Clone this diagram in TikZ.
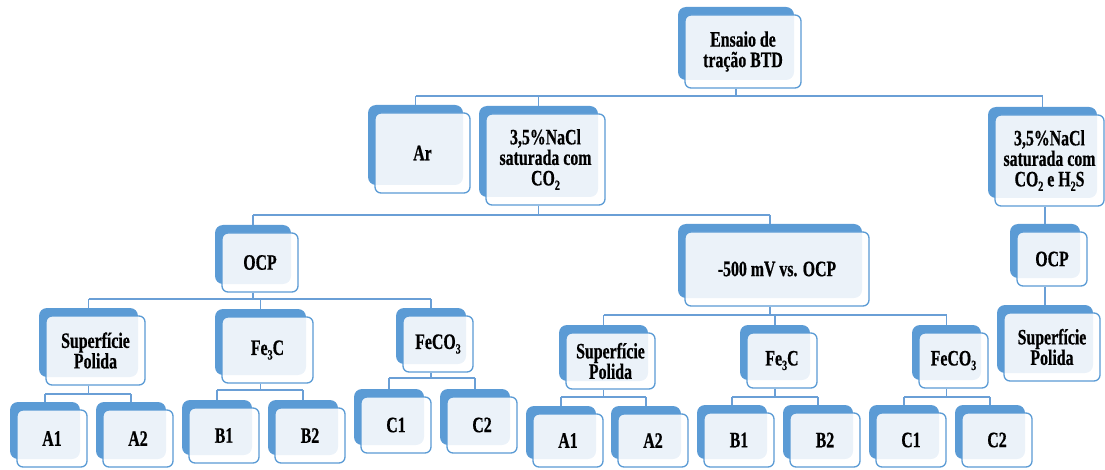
\documentclass[tikz,border=0pt]{standalone}
\usepackage{fontspec}
\setmainfont{Liberation Serif}[FakeStretch=0.72, BoldFeatures={FakeBold=0.6}]
\definecolor{boxblue}{HTML}{5B9BD5}
\definecolor{linkblue}{HTML}{6A9FD6}
\newcommand\sub[1]{\raisebox{-0.45ex}{\fontsize{14}{14}\selectfont #1}}
\tikzset{
  backbox/.style={draw=none, fill=boxblue, rounded corners=8pt, inner sep=0pt},
  frontbox/.style={draw=boxblue, line width=1.3pt, fill=white, fill opacity=0.88, text opacity=1,
    rounded corners=6pt, inner sep=0pt, align=center,
    font=\fontsize{22}{20.5}\selectfont\bfseries},
  conn/.style={draw=linkblue, line width=1.4pt}
}
\newcommand\bx[6]{%
  \node[backbox, minimum width=#4, minimum height=#5] (#1-b) at (#2-7,#3-8) {};
  \node[frontbox, minimum width=#4, minimum height=#5] (#1) at (#2,#3) {#6};
}
\begin{document}
\begin{tikzpicture}[x=1pt,y=-1pt]
\useasboundingbox (0,0) rectangle (1105,470);
% level 1-2
\bx{top}{743}{51.5}{116}{73}{Ensaio de\\tração BTD}
\bx{ar}{422.5}{153}{95}{80}{Ar}
\bx{nacl}{545.5}{159.5}{119}{91}{3,5\%NaCl\\saturada com\\CO\sub{2}}
\bx{hs}{1049.5}{160.5}{109}{91}{3,5\%NaCl\\saturada com\\CO\sub{2} e H\sub{2}S}
% level 3
\bx{ocpL}{260}{262.5}{76}{59}{OCP}
\bx{mv}{777}{269}{184}{74}{-500 mV vs. OCP}
\bx{ocpR}{1052}{259}{70}{54}{OCP}
% level 4
\bx{supL}{95.5}{350.5}{99}{69}{Superfície\\Polida}
\bx{feL}{267.5}{350}{91}{66}{Fe\sub{3}C}
\bx{fcL}{438}{344}{70}{56}{FeCO\sub{3}}
\bx{supM}{610.5}{361}{89}{56}{Superfície\\Polida}
\bx{feM}{782}{360.5}{70}{55}{Fe\sub{3}C}
\bx{fcM}{953.5}{360.5}{69}{55}{FeCO\sub{3}}
\bx{supR}{1052}{347}{96}{68}{Superfície\\Polida}
% level 5
\bx{aaL}{52}{438.5}{70}{57}{A1}
\bx{abL}{138}{438.5}{70}{57}{A2}
\bx{baL}{224}{435.5}{70}{55}{B1}
\bx{bbL}{310}{435.5}{70}{55}{B2}
\bx{caL}{396}{425}{70}{56}{C1}
\bx{cbL}{482}{425}{70}{56}{C2}
\bx{aaM}{568}{440.5}{70}{53}{A1}
\bx{abM}{653}{440.5}{70}{53}{A2}
\bx{baM}{739}{440}{70}{54}{B1}
\bx{bbM}{825}{440}{70}{54}{B2}
\bx{caM}{911}{440}{70}{54}{C1}
\bx{cbM}{997}{440}{70}{54}{C2}
% bus coordinates
\coordinate (yA) at (0,96);
\coordinate (yB) at (0,215);
\coordinate (yC) at (0,299);
\coordinate (yD) at (0,315);
\coordinate (yE) at (0,394);
\coordinate (yF) at (0,390);
\coordinate (yG) at (0,378);
\coordinate (yH) at (0,397);
% connectors
\draw[conn] (top-b |- top.south) -- (top-b |- yA);
\draw[conn] (ar-b |- yA) -- (hs-b |- yA);
\foreach \c in {ar,nacl,hs} \draw[conn] (\c-b |- yA) -- (\c-b.north);

\draw[conn] (nacl-b |- nacl.south) -- (nacl-b |- yB);
\draw[conn] (ocpL-b |- yB) -- (mv-b |- yB);
\foreach \c in {ocpL,mv} \draw[conn] (\c-b |- yB) -- (\c-b.north);

\draw[conn] (ocpR-b |- hs.south) -- (ocpR-b.north);
\draw[conn] (supR-b |- ocpR.south) -- (supR-b.north);

\draw[conn] (ocpL-b |- ocpL.south) -- (ocpL-b |- yC);
\draw[conn] (supL-b |- yC) -- (fcL-b |- yC);
\foreach \c in {supL,feL,fcL} \draw[conn] (\c-b |- yC) -- (\c-b.north);

\draw[conn] (mv-b |- mv.south) -- (mv-b |- yD);
\draw[conn] (supM-b |- yD) -- (fcM-b |- yD);
\foreach \c in {supM,feM,fcM} \draw[conn] (\c-b |- yD) -- (\c-b.north);

\draw[conn] (supL-b |- supL.south) -- (supL-b |- yE);
\draw[conn] (aaL-b |- yE) -- (abL-b |- yE);
\foreach \c in {aaL,abL} \draw[conn] (\c-b |- yE) -- (\c-b.north);

\draw[conn] (feL-b |- feL.south) -- (feL-b |- yF);
\draw[conn] (baL-b |- yF) -- (bbL-b |- yF);
\foreach \c in {baL,bbL} \draw[conn] (\c-b |- yF) -- (\c-b.north);

\draw[conn] (fcL-b |- fcL.south) -- (fcL-b |- yG);
\draw[conn] (caL-b |- yG) -- (cbL-b |- yG);
\foreach \c in {caL,cbL} \draw[conn] (\c-b |- yG) -- (\c-b.north);

\draw[conn] (supM-b |- supM.south) -- (supM-b |- yH);
\draw[conn] (aaM-b |- yH) -- (abM-b |- yH);
\foreach \c in {aaM,abM} \draw[conn] (\c-b |- yH) -- (\c-b.north);

\draw[conn] (feM-b |- feM.south) -- (feM-b |- yH);
\draw[conn] (baM-b |- yH) -- (bbM-b |- yH);
\foreach \c in {baM,bbM} \draw[conn] (\c-b |- yH) -- (\c-b.north);

\draw[conn] (fcM-b |- fcM.south) -- (fcM-b |- yH);
\draw[conn] (caM-b |- yH) -- (cbM-b |- yH);
\foreach \c in {caM,cbM} \draw[conn] (\c-b |- yH) -- (\c-b.north);
\end{tikzpicture}
\end{document}
